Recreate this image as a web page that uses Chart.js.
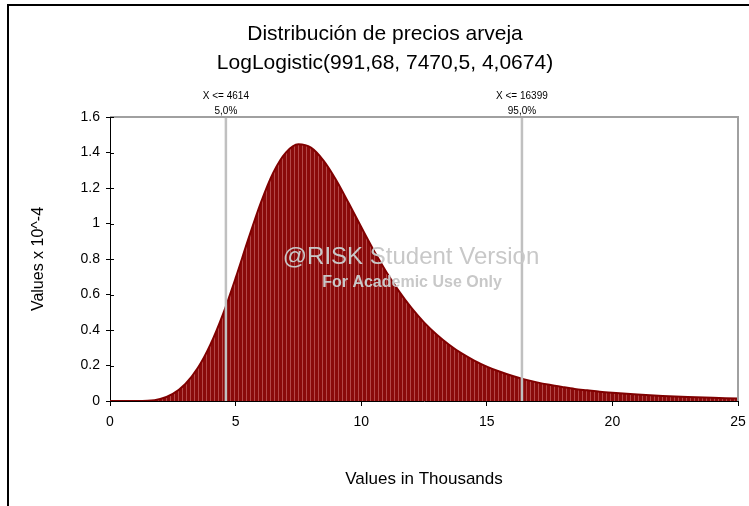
<!DOCTYPE html>
<html>
<head>
<meta charset="utf-8">
<script src="https://cdn.jsdelivr.net/npm/chart.js@4/dist/chart.umd.min.js"></script>
<style>
  body { margin: 0; background: #fff; }
  #frame { position: absolute; left: 7px; top: 4px; width: 760px; height: 520px;
           border-top: 2px solid #000; border-left: 2px solid #000; }
  #wrap { position: absolute; left: 0; top: 0; width: 749px; height: 506px; }
</style>
</head>
<body>
<div id="frame"></div>
<div id="wrap"><canvas id="riskChart" width="749" height="506"></canvas></div>
<script>
// density values (x in thousands, y in 10^-4)
var densX = [0, 0.5, 1, 1.5, 2, 2.5, 3, 3.5, 4, 4.5, 5, 5.5, 6, 6.5, 7, 7.5, 8, 8.5, 9, 9.5,
             10, 10.5, 11, 11.5, 12, 12.5, 13, 13.5, 14, 14.5, 15, 15.5, 16, 16.5, 17, 17.5,
             18, 18.5, 19, 19.5, 20, 21, 22, 23, 24, 25];
var densY = [0, 0, 0, 0.0014, 0.0117, 0.040, 0.096, 0.187, 0.319, 0.490, 0.692, 0.909, 1.115, 1.286, 1.399, 1.446, 1.427, 1.354, 1.245, 1.115,
             0.980, 0.848, 0.727, 0.619, 0.524, 0.443, 0.375, 0.317, 0.268, 0.228, 0.194, 0.166, 0.142, 0.122, 0.105, 0.091,
             0.079, 0.068, 0.060, 0.052, 0.046, 0.036, 0.028, 0.022, 0.018, 0.014];

var markerValues = [4.614, 16.399];
var markerLabels = [["X <= 4614", "5,0%"], ["X <= 16399", "95,0%"]];

var titleLines = ["Distribución de precios arveja", "LogLogistic(991,68, 7470,5, 4,0674)"];
var watermark = ["@RISK Student Version", "For Academic Use Only"];

var points = [];
for (var i = 0; i < densX.length; i++) {
    points.push({ x: densX[i], y: densY[i] });
}

// striped dark red fill like the original histogram bars
var tile = document.createElement('canvas');
tile.width = 4; tile.height = 1;
var tctx = tile.getContext('2d');
tctx.fillStyle = '#8a0a0a'; tctx.fillRect(0, 0, 4, 1);
tctx.fillStyle = '#b34848'; tctx.fillRect(2, 0, 1, 1);
var stripes = tctx.createPattern(tile, 'repeat');

var sans = "'Liberation Sans', Arial, sans-serif";

var riskPlugin = {
    id: 'riskExtras',
    afterDatasetsDraw: function (chart) {
        var ctx = chart.ctx, a = chart.chartArea;
        var xs = chart.scales.x, ys = chart.scales.y;
        ctx.save();
        // percentile lines
        ctx.strokeStyle = '#c0c0c0';
        ctx.lineWidth = 2.5;
        markerValues.forEach(function (v) {
            var px = xs.getPixelForValue(v);
            ctx.beginPath();
            ctx.moveTo(px, a.top);
            ctx.lineTo(px, a.bottom);
            ctx.stroke();
        });
        // top and right frame of plot
        ctx.strokeStyle = '#a0a0a0';
        ctx.lineWidth = 2;
        ctx.beginPath();
        ctx.moveTo(a.left, a.top);
        ctx.lineTo(a.right, a.top);
        ctx.lineTo(a.right, a.bottom);
        ctx.stroke();
        // inner half of y ticks
        ctx.strokeStyle = '#000';
        ctx.lineWidth = 1;
        ys.ticks.forEach(function (t) {
            var py = Math.round(ys.getPixelForValue(t.value)) + 0.5;
            ctx.beginPath();
            ctx.moveTo(a.left, py);
            ctx.lineTo(a.left + 4, py);
            ctx.stroke();
        });
        ctx.restore();
    },
    afterDraw: function (chart) {
        var ctx = chart.ctx, xs = chart.scales.x;
        ctx.save();
        ctx.fillStyle = '#000';
        ctx.textAlign = 'center';
        ctx.textBaseline = 'middle';
        ctx.font = '21px ' + sans;
        ctx.fillText(titleLines[0], 385, 34);
        ctx.fillText(titleLines[1], 385, 63);

        ctx.font = '10px ' + sans;
        markerValues.forEach(function (v, i) {
            var px = xs.getPixelForValue(v);
            ctx.fillText(markerLabels[i][0], px, 96);
            ctx.fillText(markerLabels[i][1], px, 111);
        });

        ctx.fillStyle = '#c8c8c8';
        ctx.font = '24px ' + sans;
        ctx.fillText(watermark[0], 411, 257);
        ctx.font = 'bold 16px ' + sans;
        ctx.fillText(watermark[1], 412, 283);
        ctx.restore();
    }
};

var tickFont = { family: sans, size: 14 };

var riskChart = new Chart(document.getElementById('riskChart'), {
    type: 'line',
    data: {
        datasets: [{
            data: points,
            borderColor: '#800000',
            borderWidth: 2,
            backgroundColor: stripes,
            fill: 'origin',
            pointRadius: 0,
            cubicInterpolationMode: 'monotone'
        }]
    },
    options: {
        responsive: false,
        animation: false,
        layout: { padding: { left: 0, top: 117, right: 11, bottom: 0 } },
        plugins: {
            legend: { display: false },
            tooltip: { enabled: false }
        },
        scales: {
            x: {
                type: 'linear',
                min: 0,
                max: 25,
                afterFit: function (s) { s.height = 105; s.paddingLeft = 0; s.paddingRight = 0; },
                ticks: { stepSize: 5, color: '#000', font: tickFont, padding: 8 },
                grid: { drawOnChartArea: false, tickLength: 5, color: '#000' },
                border: { color: '#000', width: 1 },
                title: { display: true, text: 'Values in Thousands', color: '#000', font: { family: sans, size: 17 }, padding: 16 }
            },
            y: {
                min: 0,
                max: 1.6,
                afterFit: function (s) { s.width = 110; s.paddingTop = 0; s.paddingBottom = 0; },
                ticks: {
                    stepSize: 0.2, color: '#000', font: tickFont, padding: 6,
                    callback: function (v) { return String(Math.round(v * 10) / 10); }
                },
                grid: { drawOnChartArea: false, tickLength: 4, color: '#000' },
                border: { color: '#000', width: 1 },
                title: { display: true, text: 'Values x 10^-4', color: '#000', font: { family: sans, size: 16 }, padding: 29 }
            }
        }
    },
    plugins: [riskPlugin]
});
</script>
</body>
</html>
